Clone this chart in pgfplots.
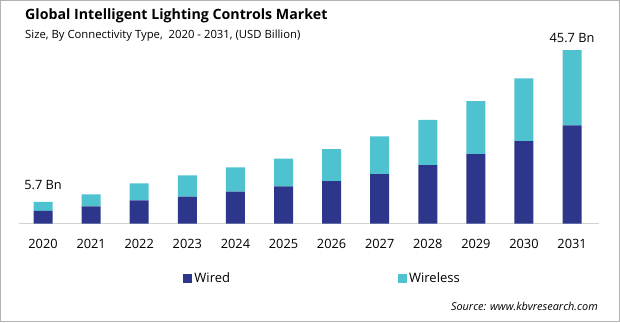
\documentclass[border=0pt]{standalone}
\usepackage{pgfplots}
\pgfplotsset{compat=1.18}
\usepackage{fontspec}
\setmainfont{Open Sans}
\definecolor{wired}{RGB}{44,55,140}
\definecolor{wireless}{RGB}{79,194,207}
\begin{document}
\begin{tikzpicture}[x=1pt,y=1pt]
\path[use as bounding box] (0,0) rectangle (620,322);
\draw[gray!60, line width=1pt] (0.5,0.5) rectangle (619.5,321.5);
\node[anchor=west, inner sep=0, font=\bfseries\fontsize{14.2}{16}\selectfont] at (25,306) {Global Intelligent Lighting Controls Market};
\node[anchor=west, inner sep=0, font=\fontsize{11.3}{13}\selectfont] at (25,286) {Size, By Connectivity Type,\ \ 2020 - 2031, (USD Billion)};
\node[anchor=east, inner sep=0, font=\itshape\fontsize{10.9}{12}\selectfont] at (598,16) {Source: www.kbvresearch.com};
\begin{axis}[
  at={(19pt,98.5pt)}, anchor=south west, scale only axis,
  width=580pt, height=182pt,
  xmin=-0.5, xmax=11.56, ymin=0, ymax=48,
  ybar stacked, bar width=19pt,
  axis y line=none, axis x line*=bottom,
  x axis line style={draw=gray!35, line width=0.8pt, -},
  xtick=data, xtick style={draw=none},
  xticklabels={2020,2021,2022,2023,2024,2025,2026,2027,2028,2029,2030,2031},
  xticklabel style={font=\fontsize{12.8}{14}\selectfont, yshift=-12pt},
  legend columns=2,
  legend style={at={(0.278,-0.30)}, anchor=west, draw=none, fill=none,
    font=\fontsize{13}{14}\selectfont,
    /tikz/every even column/.append style={column sep=166pt}},
  legend image code/.code={\fill[#1] (0pt,-4.5pt) rectangle (9pt,4.5pt);},
  clip=false,
]
\addplot[fill=wired, draw=none] coordinates {(0,3.3) (1,4.5) (2,6.1) (3,7.1) (4,8.4) (5,9.8) (6,11.2) (7,13.0) (8,15.4) (9,18.3) (10,21.7) (11,25.9)};
\addplot[fill=wireless, draw=none] coordinates {(0,2.4) (1,3.15) (2,4.5) (3,5.6) (4,6.4) (5,7.3) (6,8.4) (7,10.0) (8,11.9) (9,14.0) (10,16.6) (11,19.8)};
\legend{Wired, Wireless}
\node[font=\fontsize{12.8}{14}\selectfont, inner sep=0] at (axis cs:0,5.7) [yshift=17pt] {5.7 Bn};
\node[font=\fontsize{12.8}{14}\selectfont, inner sep=0] at (axis cs:11,45.7) [yshift=12pt] {45.7 Bn};
\end{axis}
\end{tikzpicture}
\end{document}
